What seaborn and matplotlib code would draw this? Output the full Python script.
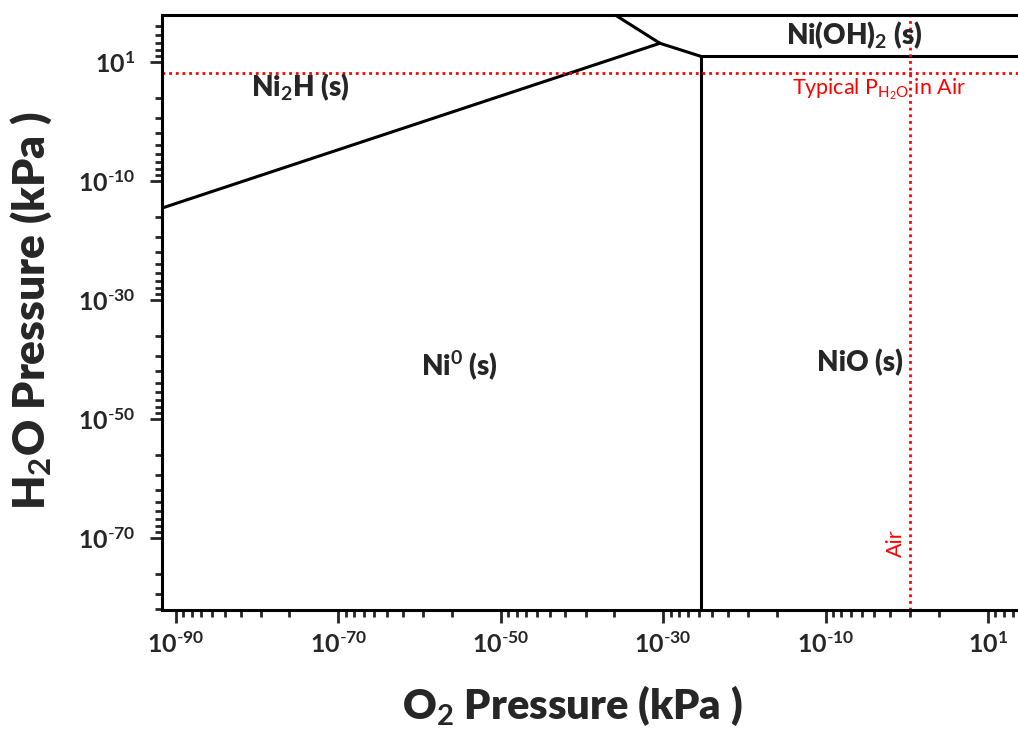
import numpy as np
import pandas as pd
import matplotlib
matplotlib.use('Agg')
import matplotlib.pyplot as plt
import seaborn as sns
from matplotlib.ticker import FixedLocator, FixedFormatter, NullFormatter

# phase boundaries, given as log10 of pressure (kPa)
seg_names = ['Ni2H/Ni', 'top', 'mid', 'Ni(OH)2', 'Ni/NiO']
seg_logx = [[-91.72, -30.4], [-35.9, -30.4], [-30.4, -25.35], [-25.35, 13.7], [-25.35, -25.35]]
seg_logy = [[-14.6, 13.1], [17.85, 13.1], [13.1, 10.9], [10.9, 10.9], [10.9, -82.15]]

# reference lines
air_logx = 0.46
water_logy = 8.05

# axis ticks (log10)
major_x = [-90, -70, -50, -30, -10, 10]
major_x_labels = ['-90', '-70', '-50', '-30', '-10', '1']
major_y = [-70, -50, -30, -10, 10]
major_y_labels = ['-70', '-50', '-30', '-10', '1']

xlim = (-91.72, 13.7)
ylim = (-82.15, 17.85)

rows = []
for name, xs, ys in zip(seg_names, seg_logx, seg_logy):
    for i, (x, y) in enumerate(zip(xs, ys)):
        rows.append({'seg': name, 'order': i, 'x': 10.0 ** x, 'y': 10.0 ** y})
df = pd.DataFrame(rows)

sns.set_style('ticks')
plt.rcParams['font.family'] = ['Lato', 'DejaVu Sans']
plt.rcParams['mathtext.fontset'] = 'custom'
plt.rcParams['mathtext.rm'] = 'Lato'
plt.rcParams['mathtext.bf'] = 'Lato:bold'
plt.rcParams['mathtext.it'] = 'Lato:italic'


def pow_label(e):
    # keep a plain hyphen in the exponent, like the original
    e = e.replace('-', '\\text{-}')
    return '$\\mathbf{10^{' + e + '}}$'


fig = plt.figure(figsize=(10.18, 7.29), dpi=100)
ax = fig.add_axes([162 / 1018, 1 - 610 / 729, 1 - 162 / 1018, (610 - 15) / 729])

sns.lineplot(data=df, x='x', y='y', units='seg', estimator=None, sort=False,
             color='black', lw=2.2, ax=ax, legend=False)

ax.set_xscale('log')
ax.set_yscale('log')
ax.set_xlim(10.0 ** xlim[0], 10.0 ** xlim[1])
ax.set_ylim(10.0 ** ylim[0], 10.0 ** ylim[1])

# red dotted lines
ax.axhline(10.0 ** water_logy, color='red', ls=(0, (1, 1.4)), lw=2)
ax.axvline(10.0 ** air_logx, color='red', ls=(0, (1, 1.4)), lw=2)


# minor ticks sit at upper_major - 20*log10(k)
def minor_ticks(majors, lo, hi):
    out = []
    for m in majors:
        for k in range(2, 10):
            v = m - 20 * np.log10(k)
            if lo < v < hi:
                out.append(v)
    return out


mx = minor_ticks(major_x + [30], *xlim)
my = minor_ticks([-90] + major_y + [30], *ylim)

ax.xaxis.set_major_locator(FixedLocator([10.0 ** v for v in major_x]))
ax.xaxis.set_major_formatter(FixedFormatter([pow_label(t) for t in major_x_labels]))
ax.xaxis.set_minor_locator(FixedLocator([10.0 ** v for v in mx]))
ax.xaxis.set_minor_formatter(NullFormatter())
ax.yaxis.set_major_locator(FixedLocator([10.0 ** v for v in major_y]))
ax.yaxis.set_major_formatter(FixedFormatter([pow_label(t) for t in major_y_labels]))
ax.yaxis.set_minor_locator(FixedLocator([10.0 ** v for v in my]))
ax.yaxis.set_minor_formatter(NullFormatter())

ax.tick_params(which='major', direction='out', length=9, width=2, labelsize=18, pad=6)
ax.tick_params(which='minor', direction='out', length=5, width=2)
ax.tick_params(axis='y', which='major', pad=10)

for s in ['left', 'bottom', 'top']:
    ax.spines[s].set_linewidth(2.2)
    ax.spines[s].set_color('black')
ax.spines['right'].set_visible(False)

# region labels
lab = dict(fontsize=20, fontweight='heavy', ha='center', va='center')
ax.text(10.0 ** -74.7, 10.0 ** 5.75, 'Ni$\\mathbf{_2}$H (s)', **lab)
ax.text(10.0 ** -55.1, 10.0 ** -41, 'Ni$\\mathbf{^0}$ (s)', **lab)
ax.text(10.0 ** -5.8, 10.0 ** -40.6, 'NiO (s)', **lab)
ax.text(10.0 ** -6.4, 10.0 ** 14.5, 'Ni(OH)$\\mathbf{_2}$ (s)', **lab)
ax.text(10.0 ** -3.4, 10.0 ** 5.4, 'Typical P$_{\\mathrm{H_2O}}$ in Air', color='red',
        fontsize=15.5, ha='center', va='center')
ax.text(10.0 ** -1.3, 10.0 ** -71, 'Air', color='red', fontsize=15.5, rotation=90,
        ha='center', va='center')

ax.set_xlabel('O$\\mathbf{_2}$ Pressure (kPa )', fontsize=30, fontweight='heavy', va='center')
ax.xaxis.set_label_coords(0.479, -0.16)
ax.set_ylabel('H$\\mathbf{_2}$O Pressure (kPa )', fontsize=32, fontweight='heavy', va='center')
ax.yaxis.set_label_coords(-0.153, 0.5025)

fig.savefig('out.png', dpi=100)
